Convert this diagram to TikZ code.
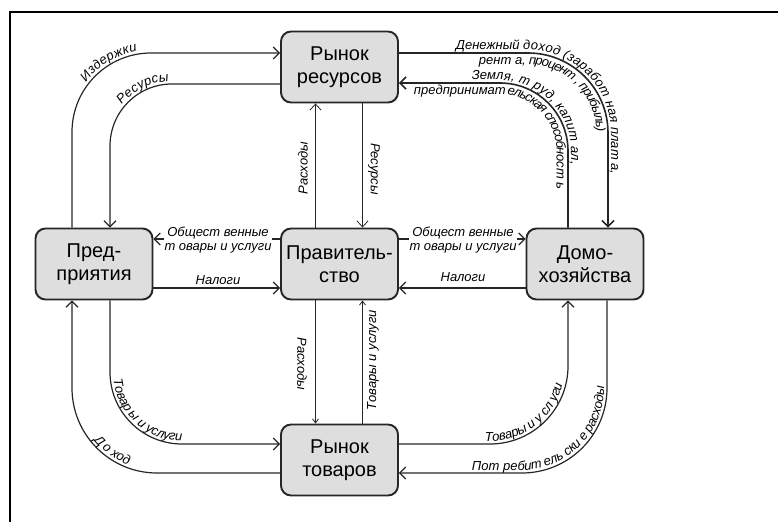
\documentclass[tikz,border=0pt]{standalone}
\usepackage{fontspec}
\setmainfont{Liberation Sans}
\usetikzlibrary{arrows.meta,decorations.text}
\newcommand{\lblf}{\fontsize{13}{14}\selectfont\itshape}
\begin{document}
\begin{tikzpicture}[x=1pt,y=1pt,
  box/.style={draw=black!85,line width=1.9pt,fill=black!13,rounded corners=10pt,minimum width=117pt,minimum height=71pt,inner sep=0pt,align=center,font=\fontsize{20}{23}\selectfont},
  conn/.style={line width=1.2pt,draw=black!85,-{Straight Barb[length=6pt,width=12pt]}},
  connb/.style={conn,line width=1.6pt},
  connv/.style={line width=0.8pt,draw=black!85,-{Straight Barb[length=6pt,width=11pt]}},
  connsm/.style={line width=0.8pt,draw=black!85,-{Straight Barb[length=4pt,width=6pt]}},
  lbl/.style={font=\lblf,inner sep=1pt},
  ltext/.style n args={3}{decorate,decoration={text along path,text align={left indent=#1},raise=#2,text={|\lblf|#3}}}
]
\useasboundingbox (0,0) rectangle (778,522);
\draw[line width=2.5pt] (10,0) -- (10,510) -- (778,510);

% nodes
\node[box] (rr) at (339.5,455) {Рынок\\ресурсов};
\node[box] (pr) at (94,258) {Пред-\\приятия};
\node[box] (gv) at (339.5,258) {Правитель-\\ство};
\node[box] (dh) at (585,258) {Домо-\\хозяйства};
\node[box] (rt) at (339.5,62) {Рынок\\товаров};

% connectors
\draw[conn,rounded corners=79pt] ([xshift=-22pt]pr.north) |- ([yshift=14pt]rr.west);
\draw[conn,rounded corners=62pt] ([yshift=-17pt]rr.west) -| ([xshift=16pt]pr.north);
\draw[connb,rounded corners=80pt] ([yshift=14pt]rr.east) -| ([xshift=23pt]dh.north);
\draw[connb,rounded corners=68pt] ([xshift=-17pt]dh.north) |- ([yshift=-16pt]rr.east);
\draw[connv] ([xshift=-24pt]gv.north) -- ([xshift=-24pt]rr.south);
\draw[connv] ([xshift=23pt]rr.south) -- ([xshift=23pt]gv.north);
\draw[connsm] ([xshift=-24pt]gv.south) -- ([xshift=-24pt]rt.north);
\draw[connsm] ([xshift=23pt]rt.north) -- ([xshift=23pt]gv.south);
\draw[conn] ([yshift=25pt]gv.west) -- ([yshift=25pt]pr.east);
\draw[conn] ([yshift=-24pt]pr.east) -- ([yshift=-24pt]gv.west);
\draw[conn] ([yshift=25pt]gv.east) -- ([yshift=25pt]dh.west);
\draw[conn] ([yshift=-24pt]dh.west) -- ([yshift=-24pt]gv.east);
\draw[conn,rounded corners=72pt] ([xshift=16pt]pr.south) |- ([yshift=16pt]rt.west);
\draw[conn,rounded corners=85pt] ([yshift=-13pt]rt.west) -| ([xshift=-22pt]pr.south);
\draw[conn,rounded corners=78pt] ([yshift=16pt]rt.east) -| ([xshift=-17pt]dh.south);
\draw[conn,rounded corners=85pt] ([xshift=22pt]dh.south) |- ([yshift=-13pt]rt.east);

% curved labels
\path[rounded corners=79pt,ltext={147pt}{3pt}{Издержки}] ([xshift=-22pt]pr.north) |- ([yshift=14pt]rr.west);
\path[rounded corners=62pt,ltext={124pt}{3pt}{Ресурсы}] ([xshift=16pt]pr.north) |- ([yshift=-17pt]rr.west);
\path[rounded corners=80pt,ltext={57pt}{3pt}{Денежный доход (заработ ная плат а,}] ([yshift=14pt]rr.east) -| ([xshift=23pt]dh.north);
\path[rounded corners=80pt,ltext={80pt}{-11.5pt}{рент а, процент , прибыль)}] ([yshift=14pt]rr.east) -| ([xshift=23pt]dh.north);
\path[rounded corners=68pt,ltext={73pt}{3pt}{Земля, т руд, капит ал,}] ([yshift=-16pt]rr.east) -| ([xshift=-17pt]dh.north);
\path[rounded corners=68pt,ltext={15pt}{-11.5pt}{предпринимат ельская способност ь}] ([yshift=-16pt]rr.east) -| ([xshift=-17pt]dh.north);
\path[rounded corners=72pt,ltext={80pt}{3pt}{Товар ы и услуги}] ([xshift=16pt]pr.south) |- ([yshift=16pt]rt.west);
\path[rounded corners=85pt,ltext={146pt}{3pt}{Д о ход}] ([xshift=-22pt]pr.south) |- ([yshift=-13pt]rt.west);
\path[rounded corners=78pt,ltext={86pt}{3pt}{Товары и у сл уги}] ([yshift=16pt]rt.east) -| ([xshift=-17pt]dh.south);
\path[rounded corners=85pt,ltext={73pt}{3pt}{Пот ребит ель ски е расходы}] ([yshift=-13pt]rt.east) -| ([xshift=22pt]dh.south);

% straight labels
\node[lbl,rotate=90] (l1) at (303,354) {Расходы};
\node[lbl,rotate=-90] (l2) at (374,353) {Ресурсы};
\node[lbl,rotate=-90] (l3) at (302,158) {Расходы};
\node[lbl,rotate=90] (l4) at (373,162) {Товары и услуги};
\node[lbl,fill=white,align=center] (l5) at (218,282) {Общест венные\\т овары и услуги};
\node[lbl] (l6) at (218,242) {Налоги};
\node[lbl,fill=white,align=center] (l7) at (463,282) {Общест венные\\т овары и услуги};
\node[lbl] (l8) at (463,245) {Налоги};
\end{tikzpicture}
\end{document}
